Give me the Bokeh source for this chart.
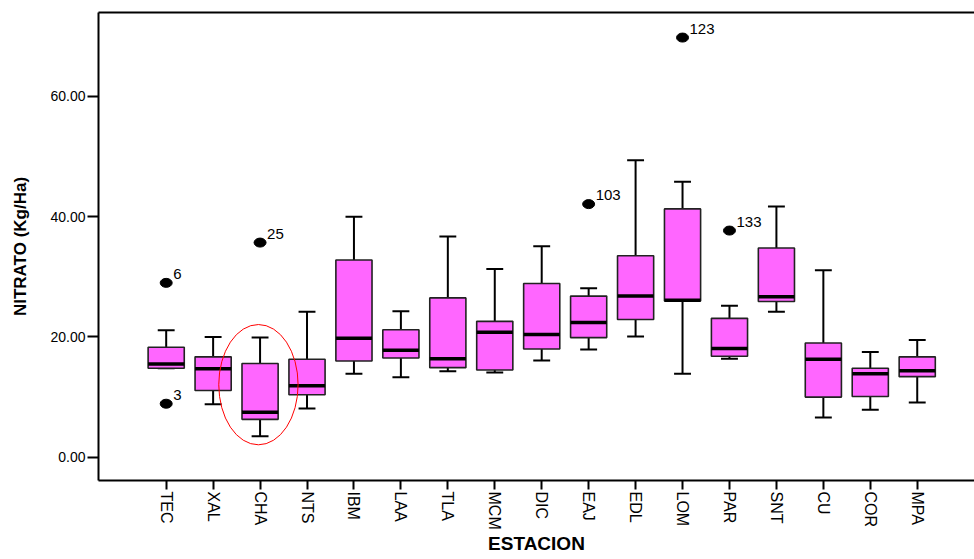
import math
from bokeh.plotting import figure
from bokeh.models import (ColumnDataSource, FixedTicker, PrintfTickFormatter,
                          LinearAxis, Range1d)
from bokeh.embed import file_html
from bokeh.resources import INLINE
from bokeh.core.properties import value

stations = ["TEC", "XAL", "CHA", "NTS", "IBM", "LAA", "TLA", "MCM", "DIC",
            "EAJ", "EDL", "LOM", "PAR", "SNT", "CU", "COR", "MPA"]
upper = [21.1, 20.0, 19.9, 24.2, 40.0, 24.3, 36.7, 31.3, 35.1, 28.1, 49.4, 45.8, 25.2, 41.7, 31.1, 17.5, 19.5]
q3 = [18.3, 16.7, 15.6, 16.3, 32.8, 21.2, 26.5, 22.6, 28.9, 26.8, 33.5, 41.3, 23.1, 34.8, 19.0, 14.8, 16.7]
median = [15.5, 14.7, 7.5, 11.9, 19.8, 17.8, 16.4, 20.8, 20.4, 22.4, 26.8, 26.1, 18.1, 26.7, 16.3, 13.9, 14.4]
q1 = [14.8, 11.1, 6.3, 10.4, 16.0, 16.5, 14.9, 14.5, 18.0, 19.9, 22.9, 26.0, 16.8, 25.9, 10.0, 10.1, 13.4]
lower = [14.8, 8.8, 3.5, 8.1, 13.9, 13.3, 14.3, 14.1, 16.1, 17.9, 20.1, 13.9, 16.4, 24.2, 6.6, 7.9, 9.1]

outlier_station = ["TEC", "TEC", "CHA", "EAJ", "LOM", "PAR"]
outlier_value = [29.0, 8.9, 35.7, 42.1, 69.8, 37.7]
outlier_label = ["6", "3", "25", "103", "123", "133"]

y_ticks = [0, 20, 40, 60]

xpos = list(range(1, len(stations) + 1))
pos = {s: i for s, i in zip(stations, xpos)}
BOX_W = 0.77
CAP_W = 0.36

src = ColumnDataSource(dict(
    x=xpos, upper=upper, q3=q3, median=median, q1=q1, lower=lower,
    bl=[x - BOX_W / 2 for x in xpos], br=[x + BOX_W / 2 for x in xpos],
    cl=[x - CAP_W / 2 for x in xpos], cr=[x + CAP_W / 2 for x in xpos],
))
osrc = ColumnDataSource(dict(
    x=[pos[s] for s in outlier_station], y=outlier_value, label=outlier_label))

p = figure(width=974, height=559, output_backend="svg", toolbar_location=None,
           x_range=Range1d(-0.442, 18.22), y_range=Range1d(-3.87, 73.97),
           min_border_left=98, min_border_top=12, min_border_right=0,
           min_border_bottom=79)
p.outline_line_color = None
p.grid.visible = False
p.background_fill_color = "white"

# whiskers
p.segment(x0="x", y0="q3", x1="x", y1="upper", source=src, line_color="black", line_width=2)
p.segment(x0="x", y0="q1", x1="x", y1="lower", source=src, line_color="black", line_width=2)
p.segment(x0="cl", y0="upper", x1="cr", y1="upper", source=src, line_color="black", line_width=2)
p.segment(x0="cl", y0="lower", x1="cr", y1="lower", source=src, line_color="black", line_width=2)
# boxes
p.vbar(x="x", width=BOX_W, top="q3", bottom="q1", source=src,
       fill_color="#FF66FF", line_color="#222222", line_width=1.6)
# medians
p.segment(x0="bl", y0="median", x1="br", y1="median", source=src, line_color="black", line_width=3.5)

# outliers
p.ellipse(x="x", y="y", width=12, height=9, width_units="screen", height_units="screen",
          source=osrc, fill_color="black", line_color="black")
p.text(x="x", y="y", text="label", source=osrc, x_offset=7, y_offset=-4,
       text_font=value("Liberation Sans"), text_font_size="15px",
       text_baseline="bottom", text_align="left", text_color="black")

# highlight ellipse around CHA
p.ellipse(x=[pos["CHA"] - 0.035], y=[12.07], width=[1.69], height=[20.0],
          fill_color=None, line_color="red", line_width=1)

# axes
xa = p.xaxis[0]
xa.ticker = FixedTicker(ticks=xpos)
xa.major_label_overrides = {i: s for i, s in zip(xpos, stations)}
xa.major_label_orientation = -math.pi / 2
xa.major_label_text_font = "Liberation Sans"
xa.major_label_text_font_size = "16px"
xa.major_label_text_color = "black"
xa.major_label_standoff = 2
xa.axis_label = "ESTACION"
xa.axis_label_text_font = "Liberation Sans"
xa.axis_label_text_font_style = "bold"
xa.axis_label_text_font_size = "19px"
xa.axis_label_text_color = "black"
xa.axis_label_standoff = 0
xa.axis_line_width = 2
xa.major_tick_out = 9
xa.major_tick_in = 0
xa.major_tick_line_width = 2
xa.minor_tick_line_color = None

ya = p.yaxis[0]
ya.ticker = FixedTicker(ticks=y_ticks)
ya.formatter = PrintfTickFormatter(format="%.2f")
ya.major_label_text_font = "Liberation Sans"
ya.major_label_text_font_size = "14px"
ya.major_label_text_color = "black"
ya.major_label_standoff = 2
ya.axis_label = "NITRATO (Kg/Ha)"
ya.axis_label_text_font = "Liberation Sans"
ya.axis_label_text_font_style = "bold"
ya.axis_label_text_font_size = "17px"
ya.axis_label_text_color = "black"
ya.axis_label_standoff = 17
ya.axis_line_width = 2
ya.major_tick_out = 11
ya.major_tick_in = 0
ya.major_tick_line_width = 2
ya.minor_tick_line_color = None

top = LinearAxis(ticker=FixedTicker(ticks=[]), axis_line_width=2,
                 major_tick_line_color=None, minor_tick_line_color=None,
                 major_label_text_font_size="0px", major_label_standoff=0)
p.add_layout(top, "above")

open("out.html", "w").write(file_html(p, INLINE))
